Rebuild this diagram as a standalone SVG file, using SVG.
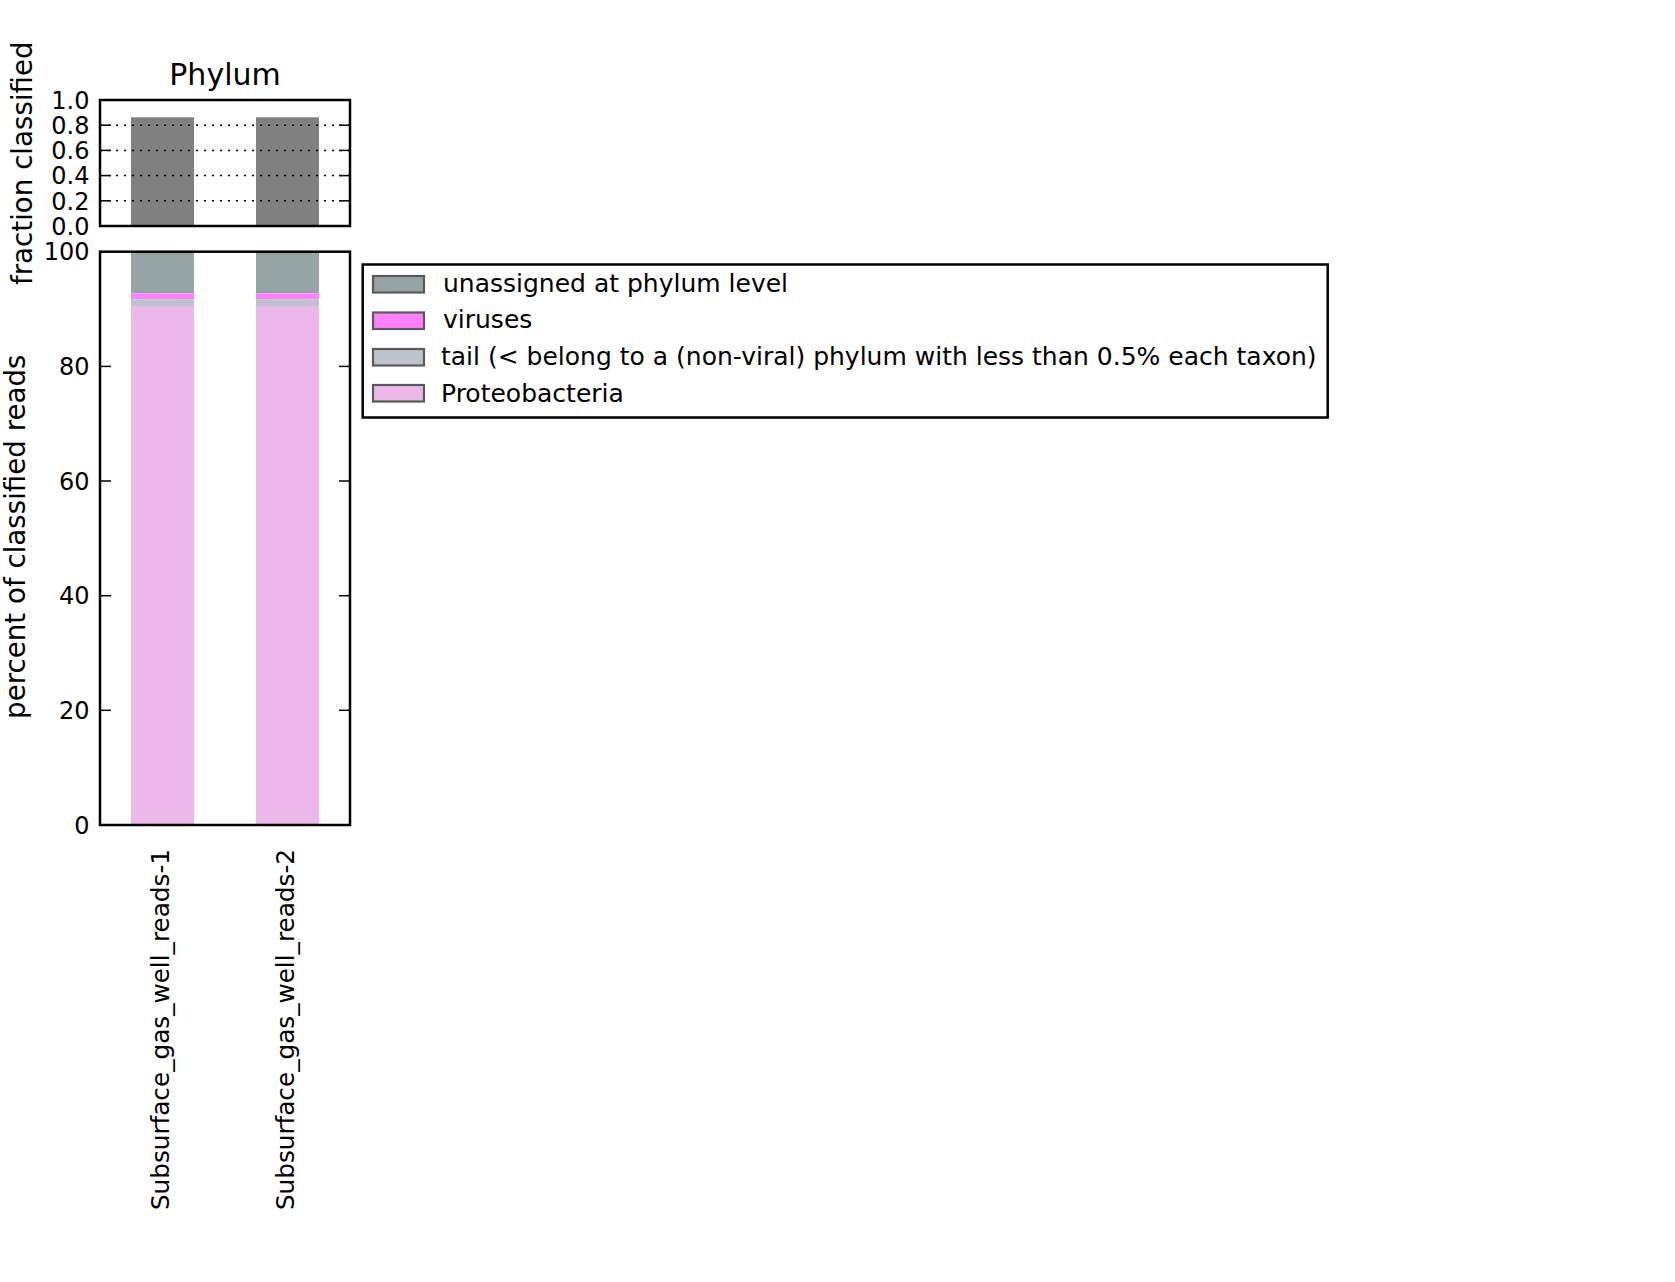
<svg xmlns="http://www.w3.org/2000/svg" width="1675" height="1282" viewBox="0 0 1675 1282">
<style>
text{font-family:"DejaVu Sans","Liberation Sans",sans-serif;fill:#000}
.tk{font-size:24px;text-anchor:end}
.xl{font-size:24.7px;text-anchor:end}
.lab{font-size:27.7px;text-anchor:middle}
.lg{font-size:25px}
.frame{fill:none;stroke:#000;stroke-width:2.5}
.tick{stroke:#000;stroke-width:1.5}
.grid{stroke:#000;stroke-width:1.5;stroke-dasharray:2 6}
.lp{stroke:#5a5a5a;stroke-width:2.2}
</style>
<rect x="0" y="0" width="1675" height="1282" fill="#fff"/>
<g id="top-axes">
<rect x="131" y="117.3" width="63" height="108.7" fill="#808080"/>
<rect x="256" y="117.3" width="63" height="108.7" fill="#808080"/>
<g class="grid">
<line x1="100" y1="125.2" x2="350" y2="125.2"/>
<line x1="100" y1="150.4" x2="350" y2="150.4"/>
<line x1="100" y1="175.6" x2="350" y2="175.6"/>
<line x1="100" y1="200.8" x2="350" y2="200.8"/>
</g>
<g class="tick">
<line x1="100" y1="125.2" x2="111" y2="125.2"/><line x1="339" y1="125.2" x2="350" y2="125.2"/>
<line x1="100" y1="150.4" x2="111" y2="150.4"/><line x1="339" y1="150.4" x2="350" y2="150.4"/>
<line x1="100" y1="175.6" x2="111" y2="175.6"/><line x1="339" y1="175.6" x2="350" y2="175.6"/>
<line x1="100" y1="200.8" x2="111" y2="200.8"/><line x1="339" y1="200.8" x2="350" y2="200.8"/>
</g>
<rect class="frame" x="100" y="100" width="250" height="126"/>
<text class="tk" x="89.5" y="108.7">1.0</text>
<text class="tk" x="89.5" y="133.9">0.8</text>
<text class="tk" x="89.5" y="159.1">0.6</text>
<text class="tk" x="89.5" y="184.3">0.4</text>
<text class="tk" x="89.5" y="209.5">0.2</text>
<text class="tk" x="89.5" y="234.7">0.0</text>
<text x="225" y="85" style="font-size:30px;text-anchor:middle">Phylum</text>
<text class="lab" transform="translate(31.5,163.2) rotate(-90)">fraction classified</text>
</g>
<g id="bottom-axes">
<g id="bar-1">
<rect x="131" y="251.7" width="63" height="41.6" fill="#95a5a6"/>
<rect x="131" y="293.3" width="63" height="6" fill="#ff80ff"/>
<rect x="131" y="299.3" width="63" height="6.7" fill="#bdc3cb"/>
<rect x="131" y="306" width="63" height="519" fill="#ecb8e9"/>
</g>
<g id="bar-2">
<rect x="256" y="251.7" width="63" height="41.6" fill="#95a5a6"/>
<rect x="256" y="293.3" width="63" height="6" fill="#ff80ff"/>
<rect x="256" y="299.3" width="63" height="6.7" fill="#bdc3cb"/>
<rect x="256" y="306" width="63" height="519" fill="#ecb8e9"/>
</g>
<g class="tick">
<line x1="100" y1="366.4" x2="111" y2="366.4"/><line x1="339" y1="366.4" x2="350" y2="366.4"/>
<line x1="100" y1="481" x2="111" y2="481"/><line x1="339" y1="481" x2="350" y2="481"/>
<line x1="100" y1="595.7" x2="111" y2="595.7"/><line x1="339" y1="595.7" x2="350" y2="595.7"/>
<line x1="100" y1="710.3" x2="111" y2="710.3"/><line x1="339" y1="710.3" x2="350" y2="710.3"/>
</g>
<rect class="frame" x="100" y="251.7" width="250" height="573.3"/>
<text class="tk" x="89.5" y="260.4">100</text>
<text class="tk" x="89.5" y="375.1">80</text>
<text class="tk" x="89.5" y="489.7">60</text>
<text class="tk" x="89.5" y="604.4">40</text>
<text class="tk" x="89.5" y="719">20</text>
<text class="tk" x="89.5" y="833.7">0</text>
<text class="lab" transform="translate(25,536.7) rotate(-90)">percent of classified reads</text>
<text class="xl" transform="translate(169,849) rotate(-90)">Subsurface_gas_well_reads-1</text>
<text class="xl" transform="translate(294,849) rotate(-90)">Subsurface_gas_well_reads-2</text>
</g>
<g id="legend">
<rect class="frame" x="362.7" y="264.5" width="965" height="153"/>
<rect class="lp" x="373" y="276" width="51" height="16.5" fill="#95a5a6"/>
<rect class="lp" x="373" y="312.5" width="51" height="16.5" fill="#ff80ff"/>
<rect class="lp" x="373" y="349" width="51" height="16.5" fill="#bdc3cb"/>
<rect class="lp" x="373" y="385" width="51" height="16.5" fill="#ecb8e9"/>
<text class="lg" x="443" y="291.7">unassigned at phylum level</text>
<text class="lg" x="443" y="328.3">viruses</text>
<text class="lg" x="441" y="365">tail (&lt; belong to a (non-viral) phylum with less than 0.5% each taxon)</text>
<text class="lg" x="441" y="401.7">Proteobacteria</text>
</g>
</svg>
